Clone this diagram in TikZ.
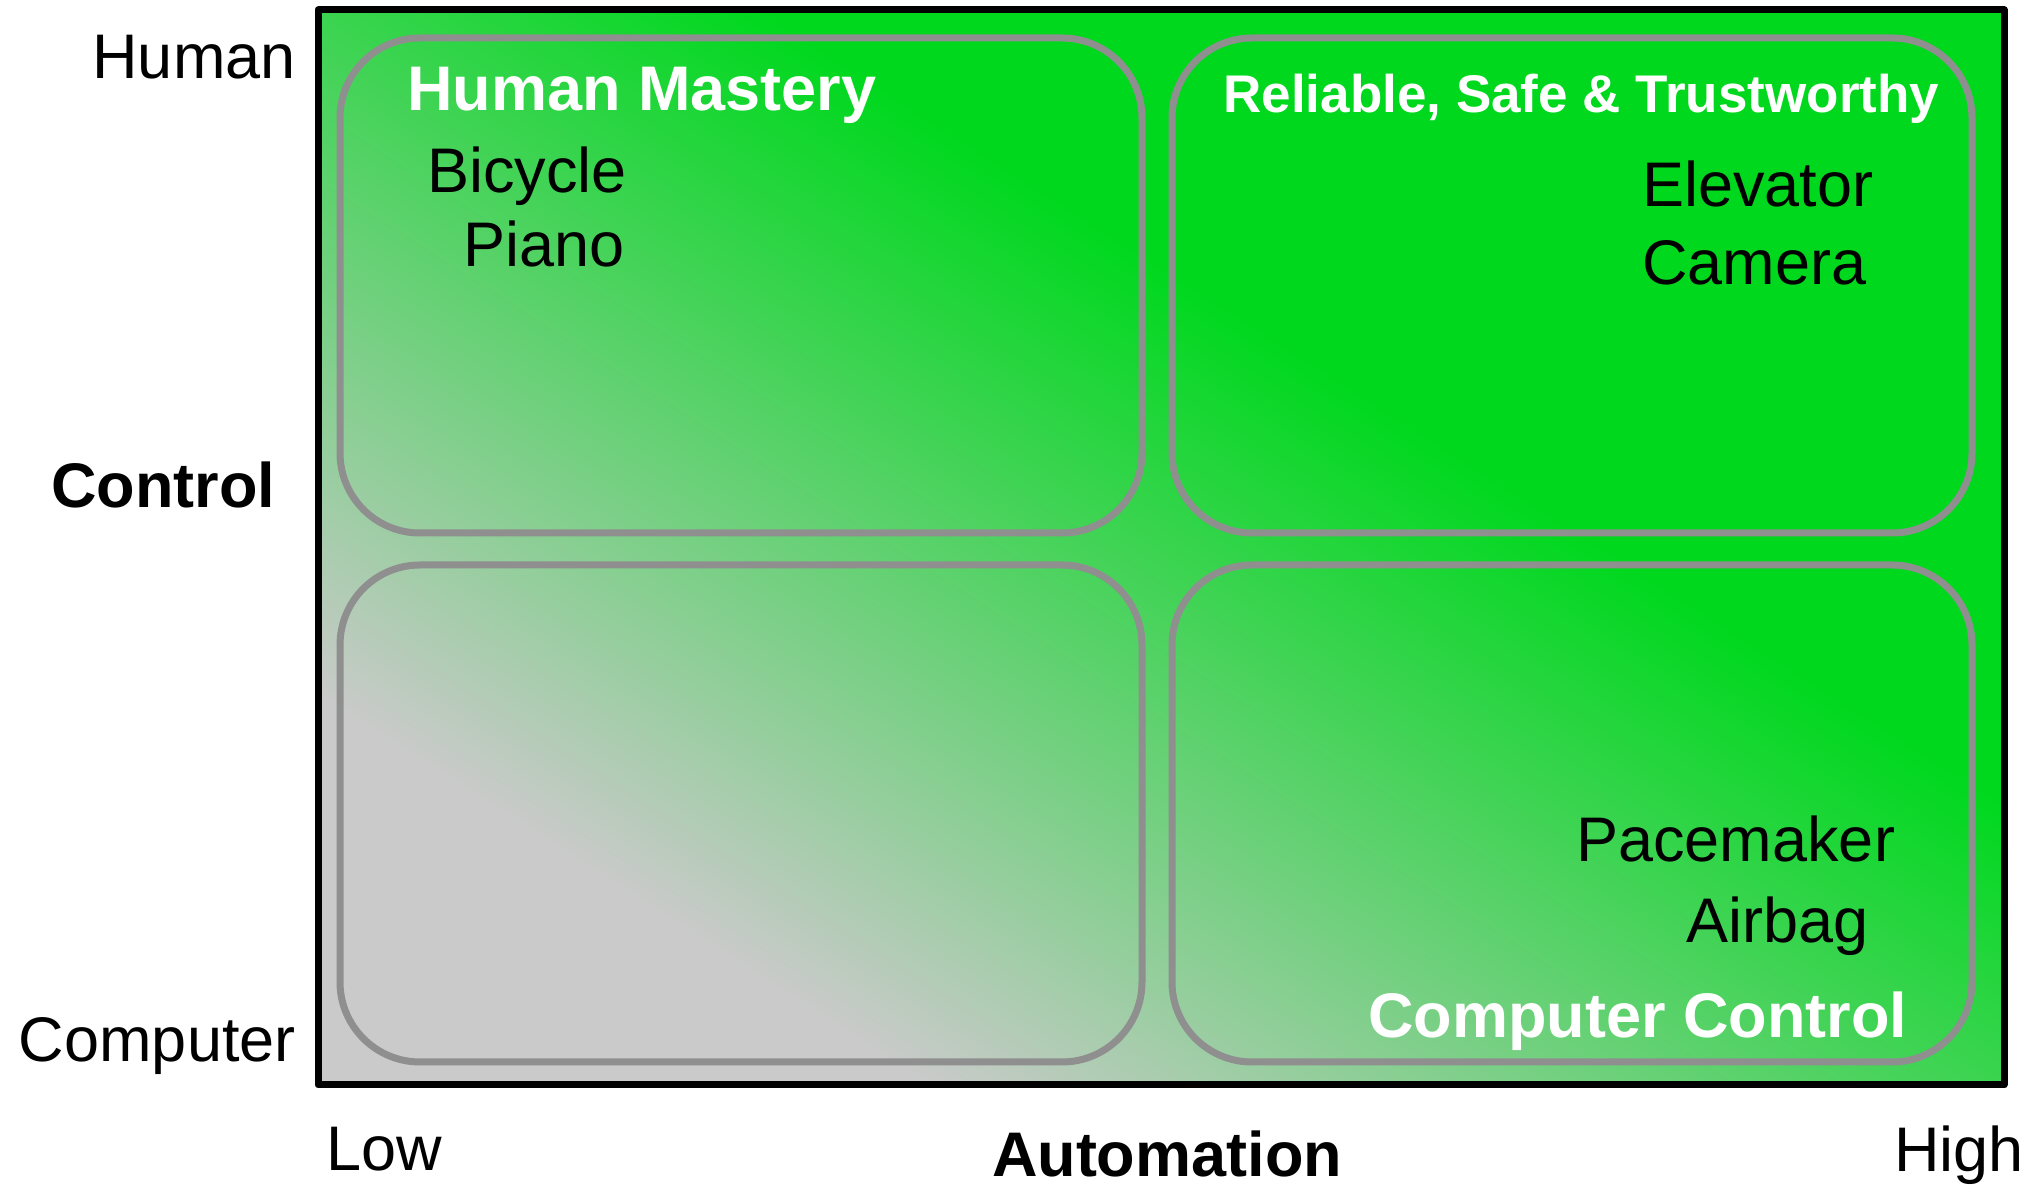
\documentclass[tikz,border=0pt]{standalone}
\usepackage{fontspec}
\setmainfont{Liberation Sans}
\usepackage{tikz}
\definecolor{cgray}{HTML}{CACACA}
\definecolor{cgreen}{HTML}{00D81E}
\definecolor{cedge}{HTML}{8F8F8F}

% 25bp = bottom-left corner, 75bp = top-right corner
\pgfdeclarehorizontalshading{grayfade}{100bp}{color(0bp)=(cgray); color(34bp)=(cgray); color(56.5bp)=(cgreen); color(100bp)=(cgreen)}

\tikzset{
  txt/.style={inner sep=0pt, font=\fontsize{31.5}{36}\selectfont},
  head/.style={txt, font=\fontsize{31.5}{36}\selectfont\bfseries},
  quad/.style={draw=cedge, line width=3.5pt, rounded corners=40pt}
}

\begin{document}
\begin{tikzpicture}[x=0.5pt, y=-0.5pt]
			\useasboundingbox (0,0) rectangle (2031,1186);

			% background fade, along the box diagonal
			\begin{scope}
				\clip (318,10) rectangle (2004,1085);
				\begin{scope}[transform canvas={shift={(318,1085)}, xscale=8.43, yscale=5.375, rotate=45}]
					\shade[shading=grayfade] (0pt,-100pt) rectangle (141.42pt,100pt);
				\end{scope}
			\end{scope}
			\draw[line width=3.5pt, line join=round] (318,10) rectangle (2004,1085);

			\draw[quad] (340,38) rectangle (1142,533);
			\draw[quad] (1172,38) rectangle (1972,533);
			\draw[quad] (340,565) rectangle (1142,1062);
			\draw[quad] (1172,565) rectangle (1972,1062);

			\node[txt, anchor=base east] (human) at (296,79) {Human};
			\node[txt, anchor=base east] (computer) at (296,1062) {Computer};
			\node[head, anchor=base west] (control) at (51,508) {Control};

			\node[txt, anchor=base west] (low) at (326,1170) {Low};
			\node[txt, anchor=base east] (high) at (2024,1171) {High};
			\node[head, anchor=base] (automation) at (1167,1176) {Automation};

			\node[head, white, anchor=base west] (mastery) at (407,111) {Human Mastery};
			\node[txt, anchor=base west] (bicycle) at (427,193) {Bicycle};
			\node[txt, anchor=base west] (piano) at (463,267) {Piano};

			\node[txt, white, anchor=base west, font=\fontsize{26.5}{32}\selectfont\bfseries] (reliable) at (1223,113) {Reliable, Safe \& Trustworthy};
			\node[txt, anchor=base west] (elevator) at (1642,207) {Elevator};
			\node[txt, anchor=base west] (camera) at (1642,285) {Camera};

			\node[txt, anchor=base west] (pacemaker) at (1576,862) {Pacemaker};
			\node[txt, anchor=base west] (airbag) at (1686,943) {Airbag};
			\node[head, white, anchor=base west] (compctl) at (1368,1038) {Computer Control};
\end{tikzpicture}
\end{document}
